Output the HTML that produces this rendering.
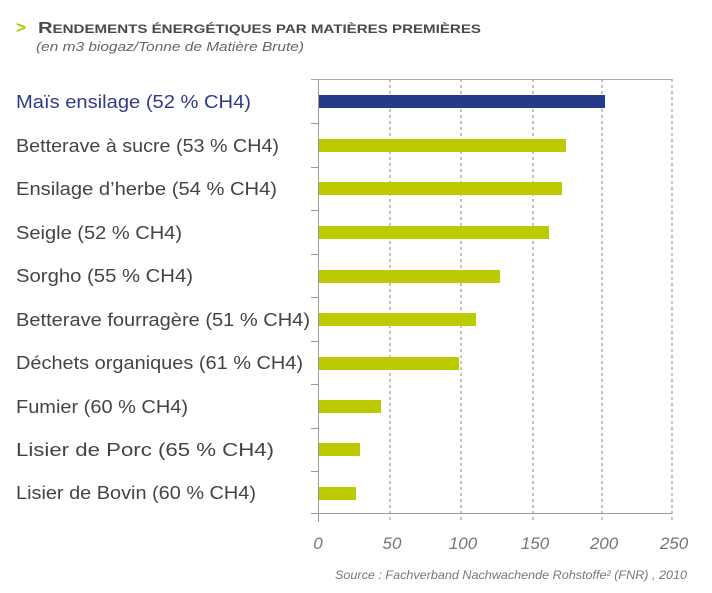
<!DOCTYPE html>
<html><head><meta charset="utf-8"><style>
html,body{margin:0;padding:0;background:#fff;}
svg{display:block;font-family:"Liberation Sans",sans-serif;}
</style></head><body>
<svg width="712" height="593" viewBox="0 0 712 593">
<text x="16" y="33" font-size="17" font-weight="bold" fill="#b6c800">&gt;</text>
<text x="38" y="33" font-size="16" font-weight="bold" fill="#4a4a4a" textLength="443" lengthAdjust="spacingAndGlyphs">R<tspan font-size="12">ENDEMENTS ÉNERGÉTIQUES PAR MATIÈRES PREMIÈRES</tspan></text>
<text x="36" y="51" font-size="13" font-style="italic" fill="#666" textLength="268" lengthAdjust="spacingAndGlyphs">(en m3 biogaz/Tonne de Matière Brute)</text>
<!-- grid -->
<g stroke="#888" stroke-width="1" stroke-dasharray="3,3">
<line x1="390" y1="79" x2="390" y2="522"/>
<line x1="461" y1="79" x2="461" y2="522"/>
<line x1="533" y1="79" x2="533" y2="522"/>
<line x1="602" y1="79" x2="602" y2="522"/>
<line x1="672" y1="79" x2="672" y2="522"/>
</g>
<line x1="311" y1="79.5" x2="672" y2="79.5" stroke="#aaa"/>
<line x1="318.5" y1="79" x2="318.5" y2="522" stroke="#999"/>
<line x1="311" y1="513.5" x2="672" y2="513.5" stroke="#999"/>
<g stroke="#999">
<line x1="311" y1="123.5" x2="318" y2="123.5"/><line x1="311" y1="167.5" x2="318" y2="167.5"/>
<line x1="311" y1="210.5" x2="318" y2="210.5"/><line x1="311" y1="254.5" x2="318" y2="254.5"/>
<line x1="311" y1="297.5" x2="318" y2="297.5"/><line x1="311" y1="341.5" x2="318" y2="341.5"/>
<line x1="311" y1="384.5" x2="318" y2="384.5"/><line x1="311" y1="428.5" x2="318" y2="428.5"/>
<line x1="311" y1="471.5" x2="318" y2="471.5"/>
</g>
<rect x="319" y="95" width="286" height="13" fill="#263a8a"/>
<g fill="#bccb00">
<rect x="319" y="139" width="247" height="13"/>
<rect x="319" y="182" width="243" height="13"/>
<rect x="319" y="226" width="230" height="13"/>
<rect x="319" y="270" width="181" height="13"/>
<rect x="319" y="313" width="157" height="13"/>
<rect x="319" y="357" width="140" height="13"/>
<rect x="319" y="400" width="62" height="13"/>
<rect x="319" y="443" width="41" height="13"/>
<rect x="319" y="487" width="37" height="13"/>
</g>
<g font-size="18" fill="#444">
<text x="16" y="108" fill="#2e3a87" textLength="235" lengthAdjust="spacingAndGlyphs">Maïs ensilage (52 % CH4)</text>
<text x="16" y="152" textLength="263" lengthAdjust="spacingAndGlyphs">Betterave à sucre (53 % CH4)</text>
<text x="16" y="195" textLength="261" lengthAdjust="spacingAndGlyphs">Ensilage d’herbe (54 % CH4)</text>
<text x="16" y="239" textLength="166" lengthAdjust="spacingAndGlyphs">Seigle (52 % CH4)</text>
<text x="16" y="282" textLength="177" lengthAdjust="spacingAndGlyphs">Sorgho (55 % CH4)</text>
<text x="16" y="326" textLength="294" lengthAdjust="spacingAndGlyphs">Betterave fourragère (51 % CH4)</text>
<text x="16" y="369" textLength="287" lengthAdjust="spacingAndGlyphs">Déchets organiques (61 % CH4)</text>
<text x="16" y="413" textLength="172" lengthAdjust="spacingAndGlyphs">Fumier (60 % CH4)</text>
<text x="16" y="456" textLength="258" lengthAdjust="spacingAndGlyphs">Lisier de Porc (65 % CH4)</text>
<text x="16" y="499" textLength="240" lengthAdjust="spacingAndGlyphs">Lisier de Bovin (60 % CH4)</text>
</g>
<g font-size="17" font-style="italic" fill="#777" text-anchor="middle">
<text x="318" y="549">0</text><text x="392" y="549">50</text><text x="463" y="549">100</text>
<text x="535" y="549">150</text><text x="604" y="549">200</text><text x="674" y="549">250</text>
</g>
<text x="687" y="579" font-size="12" font-style="italic" fill="#777" text-anchor="end" textLength="352" lengthAdjust="spacingAndGlyphs">Source : Fachverband Nachwachende Rohstoffe² (FNR) , 2010</text>
</svg>
</body></html>
